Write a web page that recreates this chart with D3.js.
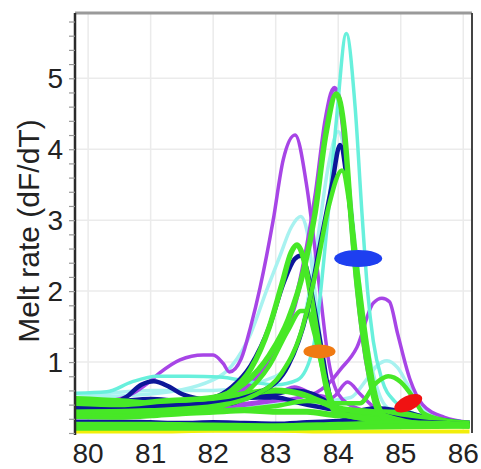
<!DOCTYPE html>
<html>
<head>
<meta charset="utf-8">
<script src="https://cdn.jsdelivr.net/npm/d3@7"></script>
<style>
  html, body { margin: 0; padding: 0; background: #fff; }
  svg { display: block; }
  text { font-family: "Liberation Sans", Arial, sans-serif; fill: #222; }
</style>
</head>
<body>
<svg id="chart" width="481" height="469"></svg>
<script>
// Melt curves: [temperature °C, dF/dT]
const yellowBase = [[79.8,0.02],[81,0.02],[82,0.03],[83,0.03],[83.9,0.02],[84.3,0.02],[86.1,0.02]];
const greenBase = [[79.8,0.07],[81,0.07],[82,0.07],[83,0.07],[84,0.08],[85,0.09],[86.1,0.1]];
const greenBase2 = [[79.8,0.12],[81,0.12],[82,0.11],[83,0.1],[84,0.12],[85,0.14],[86.1,0.12]];
const blueLow = [[79.8,0.16],[80.5,0.16],[81,0.15],[81.5,0.14],[82,0.15],[82.5,0.14],[83,0.13],[83.5,0.15],[84,0.17],[84.5,0.19],[85,0.2],[85.5,0.17],[86.1,0.12]];
const blueMid = [[79.8,0.32],[80.2,0.33],[80.7,0.36],[81.1,0.44],[81.6,0.46],[82.0,0.4],[82.3,0.42],[82.6,0.5],[83.0,0.5],[83.4,0.42],[83.8,0.35],[84.2,0.3],[85,0.3],[85.4,0.22],[86.1,0.14]];
const blueBump = [[79.8,0.38],[80.3,0.4],[80.6,0.5],[80.85,0.68],[81.05,0.73],[81.3,0.65],[81.5,0.55],[81.8,0.48],[82.2,0.45],[82.6,0.5],[83.0,0.55],[83.3,0.6],[83.6,0.55],[83.9,0.4],[84.2,0.3],[84.6,0.35],[84.9,0.32],[85.2,0.2],[86.1,0.1]];
const blueA = [[79.8,0.42],[80.5,0.45],[81,0.48],[81.5,0.45],[82,0.5],[82.3,0.65],[82.6,0.95],[82.9,1.5],[83.12,2.1],[83.3,2.45],[83.4,2.5],[83.5,2.3],[83.6,1.85],[83.74,1.15],[83.87,0.5],[84.0,0.25],[84.5,0.18],[85.5,0.15],[86.1,0.12]];
const blueB = [[79.8,0.36],[81,0.38],[82,0.42],[82.8,0.6],[83.2,0.95],[83.5,1.7],[83.72,2.7],[83.9,3.5],[84.03,4.06],[84.15,3.5],[84.28,2.4],[84.42,1.3],[84.56,0.55],[84.72,0.25],[85.5,0.15],[86.1,0.12]];
const purpleA = [[79.8,0.45],[80.35,0.46],[80.72,0.56],[80.95,0.7],[81.15,0.85],[81.47,1.03],[81.84,1.1],[82.0,1.1],[82.16,0.98],[82.26,0.86],[82.45,1.05],[82.6,1.5],[82.75,2.05],[82.96,3.0],[83.12,3.85],[83.31,4.2],[83.5,3.46],[83.6,2.8],[83.72,1.9],[83.85,1.0],[84.0,0.55],[84.3,0.35],[85,0.22],[86.1,0.15]];
const purpleB = [[79.8,0.3],[81,0.32],[82,0.35],[83,0.45],[83.6,0.55],[83.85,0.7],[84.03,0.89],[84.3,1.21],[84.56,1.83],[84.7,1.9],[84.82,1.85],[84.95,1.4],[85.15,0.75],[85.35,0.4],[85.7,0.22],[86.1,0.15]];
const purpleC = [[79.8,0.35],[81,0.4],[82,0.45],[82.6,0.7],[83,1.2],[83.3,1.8],[83.5,2.6],[83.65,3.4],[83.8,4.4],[83.94,4.86],[84.07,4.4],[84.18,3.3],[84.3,2.1],[84.42,1.2],[84.55,0.6],[84.7,0.3],[85.2,0.18],[86.1,0.12]];
const purpleD = [[79.8,0.3],[81,0.33],[82,0.38],[82.8,0.45],[83.3,0.65],[83.6,0.55],[83.9,0.5],[84.15,0.72],[84.35,0.55],[84.6,0.35],[85.2,0.22],[86.1,0.14]];
const cyanA = [[79.8,0.5],[81,0.55],[82,0.75],[82.3,0.95],[82.6,1.4],[82.85,2.0],[83.07,2.5],[83.25,2.9],[83.4,3.05],[83.5,2.85],[83.6,2.2],[83.72,1.3],[83.85,0.6],[84.0,0.35],[84.5,0.25],[85.5,0.18],[86.1,0.14]];
const cyanB = [[79.8,0.5],[81,0.6],[82,0.6],[83,0.8],[83.4,1.4],[83.65,2.6],[83.85,3.8],[84.0,4.25],[84.13,3.8],[84.28,2.6],[84.42,1.5],[84.6,0.7],[84.8,0.35],[85.5,0.2],[86.1,0.15]];
const cyanC = [[79.8,0.25],[82,0.3],[83,0.4],[83.8,0.45],[84.2,0.5],[84.45,0.75],[84.62,0.95],[84.78,1.02],[84.95,0.92],[85.1,0.7],[85.3,0.4],[85.6,0.22],[86.1,0.15]];
const cyanTall = [[79.8,0.56],[80.3,0.58],[80.7,0.72],[81.1,0.8],[81.6,0.8],[82.1,0.79],[82.6,0.72],[83.0,0.68],[83.35,0.75],[83.6,1.2],[83.82,2.9],[83.97,4.4],[84.13,5.63],[84.27,4.6],[84.38,3.1],[84.47,2.0],[84.56,1.3],[84.7,0.75],[84.9,0.45],[85.3,0.25],[86.1,0.15]];
const greenA = [[79.8,0.42],[80.5,0.4],[81.2,0.45],[82,0.5],[82.5,0.7],[82.9,1.1],[83.2,1.6],[83.45,2.3],[83.63,3.1],[83.8,4.2],[83.97,4.78],[84.1,4.25],[84.2,3.1],[84.3,2.1],[84.4,1.35],[84.5,0.8],[84.62,0.35],[84.8,0.18],[85.5,0.12],[86.1,0.1]];
const greenB = [[79.8,0.3],[81,0.32],[82,0.38],[82.7,0.55],[83.1,0.85],[83.4,1.4],[83.65,2.3],[83.85,3.2],[84.06,3.7],[84.2,3.1],[84.32,2.2],[84.45,1.3],[84.58,0.6],[84.75,0.25],[85.5,0.12],[86.1,0.1]];
const greenC = [[79.8,0.35],[81,0.38],[82,0.45],[82.3,0.6],[82.6,0.9],[82.9,1.5],[83.1,2.1],[83.25,2.55],[83.34,2.65],[83.45,2.45],[83.55,2.0],[83.68,1.3],[83.82,0.6],[83.95,0.3],[84.5,0.2],[85.5,0.15],[86.1,0.12]];
const greenD = [[79.8,0.28],[81,0.3],[82,0.35],[82.5,0.55],[82.9,0.95],[83.2,1.45],[83.4,1.72],[83.5,1.72],[83.62,1.4],[83.75,0.9],[83.9,0.45],[84.1,0.25],[85,0.15],[86.1,0.12]];
const greenE = [[79.8,0.25],[81,0.28],[82,0.3],[83,0.38],[83.5,0.45],[84.0,0.42],[84.35,0.42],[84.6,0.7],[84.8,0.8],[85.0,0.72],[85.2,0.5],[85.36,0.28],[85.7,0.18],[86.1,0.14]];
const greenF = [[79.8,0.24],[80.5,0.23],[81,0.25],[81.5,0.28],[82,0.3],[82.5,0.32],[83,0.3],[83.5,0.3],[84,0.25],[84.5,0.25],[85,0.2],[85.5,0.15],[86.1,0.12]];
const greenG = [[79.8,0.48],[80.5,0.45],[81,0.42],[81.5,0.42],[82,0.48],[82.5,0.55],[83,0.6],[83.4,0.55],[83.7,0.45],[84,0.35],[84.5,0.3],[85,0.28],[85.5,0.18],[86.1,0.13]];

// Reference melt peaks
const markerT = [84.32, 83.7, 85.12];
const markerV = [2.46, 1.15, 0.42];

const xTicks = [80, 81, 82, 83, 84, 85, 86];
const yTicks = [1, 2, 3, 4, 5];

// Draw order and styling
const COLORS = {
  yellow: "#f2ee0a", green: "#47e826", navy: "#0c1799",
  purple: "#a745e6", cyan: "#68f0dc", pale: "#a8f2f0"
};
const layers = [
  { pts: yellowBase, color: COLORS.yellow, w: 4 },
  { pts: cyanC, color: COLORS.pale, w: 3.5 },
  { pts: cyanA, color: COLORS.pale, w: 3.5 },
  { pts: cyanB, color: COLORS.pale, w: 3.5 },
  { pts: purpleD, color: COLORS.purple, w: 3.5 },
  { pts: purpleB, color: COLORS.purple, w: 3.5 },
  { pts: purpleA, color: COLORS.purple, w: 3.5 },
  { pts: purpleC, color: COLORS.purple, w: 5 },
  { pts: cyanTall, color: COLORS.cyan, w: 3.5 },
  { pts: blueLow, color: COLORS.navy, w: 4.5 },
  { pts: blueMid, color: COLORS.navy, w: 4.5 },
  { pts: blueBump, color: COLORS.navy, w: 4.5 },
  { pts: blueA, color: COLORS.navy, w: 4.5 },
  { pts: greenF, color: COLORS.green, w: 6 },
  { pts: greenG, color: COLORS.green, w: 6 },
  { pts: greenE, color: COLORS.green, w: 4.5 },
  { pts: greenD, color: COLORS.green, w: 4.5 },
  { pts: greenC, color: COLORS.green, w: 5.5 },
  { pts: blueB, color: COLORS.navy, w: 4.5 },
  { pts: greenB, color: COLORS.green, w: 4.5 },
  { pts: greenA, color: COLORS.green, w: 5.5 },
  { pts: greenBase2, color: COLORS.green, w: 5.5 },
  { pts: greenBase, color: COLORS.green, w: 5.5 }
];
const markerStyle = [
  { color: "#1e3ff0", rx: 24, ry: 8.5, rot: 0 },
  { color: "#f07a12", rx: 16, ry: 7, rot: 0 },
  { color: "#f01212", rx: 15, ry: 7.5, rot: -25 }
];

const svg = d3.select("#chart");
const L = 75, R = 472, T = 13, B = 433;

const x = d3.scaleLinear().domain([79.79, 86.14]).range([L, R]);
const y = d3.scaleLinear().domain([0, 5.92]).range([B, T]);

// grid
const grid = svg.append("g");
grid.selectAll("line.v").data(xTicks).join("line")
  .attr("x1", d => x(d)).attr("x2", d => x(d)).attr("y1", T).attr("y2", B)
  .attr("stroke", "#ebebeb").attr("stroke-width", 1.5);
grid.selectAll("line.h").data(yTicks).join("line")
  .attr("x1", L).attr("x2", R).attr("y1", d => y(d)).attr("y2", d => y(d))
  .attr("stroke", "#ebebeb").attr("stroke-width", 1.5);

svg.append("clipPath").attr("id", "plot")
  .append("rect").attr("x", L).attr("y", T).attr("width", R - L).attr("height", B - T + 2);

const line = d3.line().x(d => x(d[0])).y(d => y(d[1])).curve(d3.curveMonotoneX);

const curves = svg.append("g").attr("clip-path", "url(#plot)");
curves.selectAll("path").data(layers).join("path")
  .attr("d", d => line(d.pts))
  .attr("fill", "none")
  .attr("stroke", d => d.color)
  .attr("stroke-width", d => d.w)
  .attr("stroke-linejoin", "round");

curves.selectAll("ellipse").data(markerT).join("ellipse")
  .attr("cx", 0).attr("cy", 0)
  .attr("rx", (d, i) => markerStyle[i].rx)
  .attr("ry", (d, i) => markerStyle[i].ry)
  .attr("fill", (d, i) => markerStyle[i].color)
  .attr("transform", (d, i) => `translate(${x(d)},${y(markerV[i])}) rotate(${markerStyle[i].rot})`);

// frame
svg.append("line").attr("x1", L).attr("x2", R).attr("y1", T).attr("y2", T)
  .attr("stroke", "#9a9a9a").attr("stroke-width", 3);
svg.append("line").attr("x1", R).attr("x2", R).attr("y1", T).attr("y2", B)
  .attr("stroke", "#444").attr("stroke-width", 2);

// y axis with minor ticks every 0.2
const yAxis = d3.axisLeft(y)
  .tickValues(d3.range(0, 5.81, 0.2))
  .tickSize(6)
  .tickFormat("");
const ya = svg.append("g").attr("transform", `translate(${L},0)`).call(yAxis);
ya.select(".domain").attr("stroke", "#2a2a2a").attr("stroke-width", 2.5)
  .attr("d", `M0,${T}V${B + 2}`);
ya.selectAll(".tick line").attr("stroke", "#999").attr("stroke-width", 1.2);

svg.append("g").selectAll("text").data(yTicks).join("text")
  .attr("x", 63).attr("y", d => y(d))
  .attr("dy", "0.36em")
  .attr("text-anchor", "end")
  .attr("font-size", 28)
  .text(d => d);

svg.append("g").selectAll("text").data(xTicks).join("text")
  .attr("x", d => x(d)).attr("y", 463)
  .attr("text-anchor", "middle")
  .attr("font-size", 28)
  .text(d => d);

svg.append("text")
  .attr("transform", "translate(39,231) rotate(-90)")
  .attr("text-anchor", "middle")
  .attr("font-size", 30)
  .text("Melt rate (dF/dT)");
</script>
</body>
</html>
